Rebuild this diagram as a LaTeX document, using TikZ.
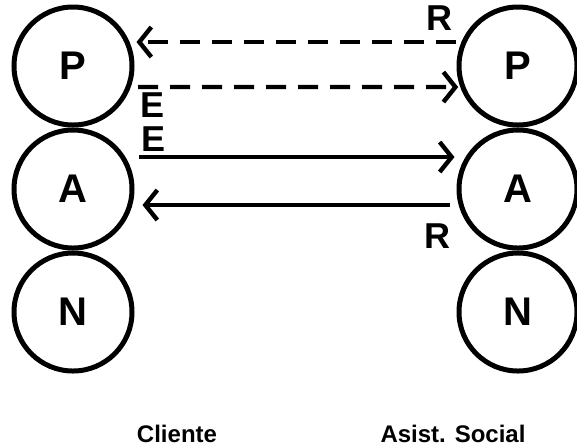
\documentclass[tikz,border=0pt]{standalone}
\usepackage{fontspec}
\setmainfont{Liberation Sans}
\usetikzlibrary{arrows.meta,positioning}

\begin{document}
\begin{tikzpicture}[->,>={Straight Barb[length=6pt,width=15pt]},shorten >=1pt,
                    line width=2.2pt,node distance=0pt,
                    role node/.style={circle,draw,line width=2.5pt,minimum size=59pt,inner sep=0pt,font=\fontsize{20}{20}\selectfont\bfseries},
                    tag node/.style={inner sep=0pt,font=\fontsize{18}{18}\selectfont\bfseries},
                    side node/.style={font=\fontsize{12}{14}\selectfont\bfseries},
                    dashed link/.style={dash pattern=on 10pt off 6pt}]

  \useasboundingbox (0,0) rectangle (288.5pt,-223.5pt);

  % Cliente
  \node[role node] (cP) at (36.5pt,-33pt) {P};
  \node[role node] (cA) [below=of cP] {A};
  \node[role node] (cN) [below=of cA] {N};
  % Asist. Social
  \node[role node] (sP) [right=161pt of cP] {P};
  \node[role node] (sA) [below=of sP] {A};
  \node[role node] (sN) [below=of sA] {N};

  \coordinate (t1) at (228pt,-21pt);
  \coordinate (t2) at (69pt,-43.5pt);
  \coordinate (t3) at (69.5pt,-78.5pt);
  \coordinate (t4) at (225pt,-102.5pt);

  \node[tag node, above left=4.5pt and 0.5pt of t1] (r1) {R};
  \node[tag node, below right=2pt and 0pt of t2] (e1) {E};
  \node[tag node, above right=1.5pt and 0pt of t3] (e2) {E};
  \node[tag node, below left=8.5pt and -1.5pt of t4] (r2) {R};

  \path (t1) edge[dashed link] (cP.east |- t1)
        (t2) edge[dashed link] (sP.200)
        (t3) edge (t3 -| sA.west)
        (t4) edge[shorten >=4pt] (t4 -| cA.east);

  \node[side node] (cl) at (88.5pt,-217pt) {Cliente};
  \node[side node] (as) at (226.5pt,-217pt) {Asist. Social};
\end{tikzpicture}
\end{document}
